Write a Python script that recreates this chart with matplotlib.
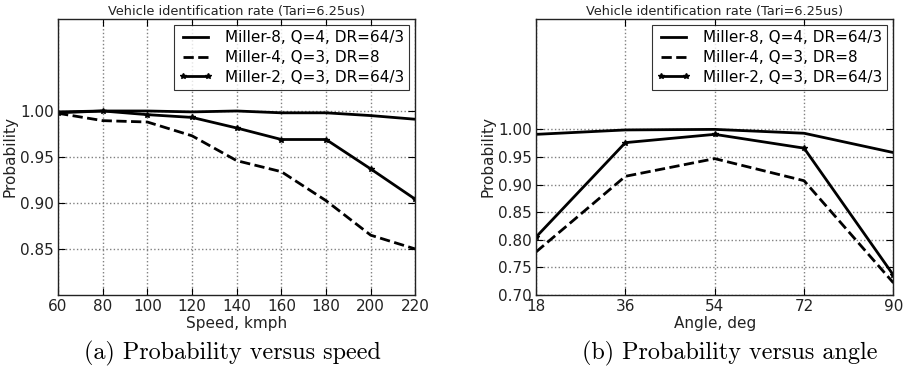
import matplotlib
matplotlib.use("Agg")
import matplotlib.pyplot as plt

speed = [60, 80, 100, 120, 140, 160, 180, 200, 220]
speed_m8 = [0.999, 1.000, 1.000, 0.999, 1.000, 0.998, 0.998, 0.995, 0.991]
speed_m4 = [0.9975, 0.9895, 0.988, 0.973, 0.946, 0.934, 0.9025, 0.865, 0.850]
speed_m2 = [0.998, 1.000, 0.996, 0.993, 0.9815, 0.969, 0.969, 0.937, 0.904]

angle = [18, 36, 54, 72, 90]
angle_m8 = [0.991, 0.999, 1.000, 0.993, 0.958]
angle_m4 = [0.778, 0.915, 0.947, 0.907, 0.722]
angle_m2 = [0.805, 0.976, 0.991, 0.966, 0.736]

labels = ["Miller-8, Q=4, DR=64/3", "Miller-4, Q=3, DR=8", "Miller-2, Q=3, DR=64/3"]
title = "Vehicle identification rate (Tari=6.25us)"

fig = plt.figure(figsize=(9.07, 3.72), dpi=100)
ax1 = fig.add_axes([0.064, 0.207, 0.394, 0.742])
ax2 = fig.add_axes([0.591, 0.207, 0.394, 0.742])

def style(ax, x, m8, m4, m2, xlabel, ylim, yticks):
    ax.plot(x, m8, color="black", lw=2, label=labels[0])
    ax.plot(x, m4, color="black", lw=2, ls="--", label=labels[1])
    ax.plot(x, m2, color="black", lw=2, marker="*", ms=4, label=labels[2])
    ax.set_xlim(x[0], x[-1])
    ax.set_xticks(x)
    ax.set_ylim(*ylim)
    ax.set_yticks(yticks)
    ax.set_yticklabels(["%.2f" % v for v in yticks])
    ax.grid(True, ls=":", color="gray", lw=1)
    for s in ax.spines.values():
        s.set_linewidth(1.0)
        s.set_color("#222222")
    ax.tick_params(direction="in", labelsize=11, length=5, top=True, right=True,
                   pad=3, labelcolor="#222222")
    ax.set_xlabel(xlabel, fontsize=11, labelpad=1, color="#222222")
    ax.set_ylabel("Probability", fontsize=11, labelpad=2, color="#222222")
    ax.set_title(title, fontsize=9.3, pad=3, color="#222222")
    leg = ax.legend(loc="upper right", fontsize=11, numpoints=2, fancybox=False,
                    borderaxespad=0.4, handlelength=2.2, labelspacing=0.3,
                    borderpad=0.35)
    leg.get_frame().set_edgecolor("black")
    leg.get_frame().set_linewidth(0.8)

style(ax1, speed, speed_m8, speed_m4, speed_m2, "Speed, kmph",
      (0.80, 1.10), [0.85, 0.90, 0.95, 1.00])
style(ax2, angle, angle_m8, angle_m4, angle_m2, "Angle, deg",
      (0.70, 1.20), [0.70, 0.75, 0.80, 0.85, 0.90, 0.95, 1.00])

fig.text(0.256, 0.05, "(a) Probability versus speed", ha="center", va="center",
         fontsize=17.4, family=["cmr10", "DejaVu Serif"])
fig.text(0.805, 0.05, "(b) Probability versus angle", ha="center", va="center",
         fontsize=17.4, family=["cmr10", "DejaVu Serif"])

fig.savefig("out.png", dpi=100)
